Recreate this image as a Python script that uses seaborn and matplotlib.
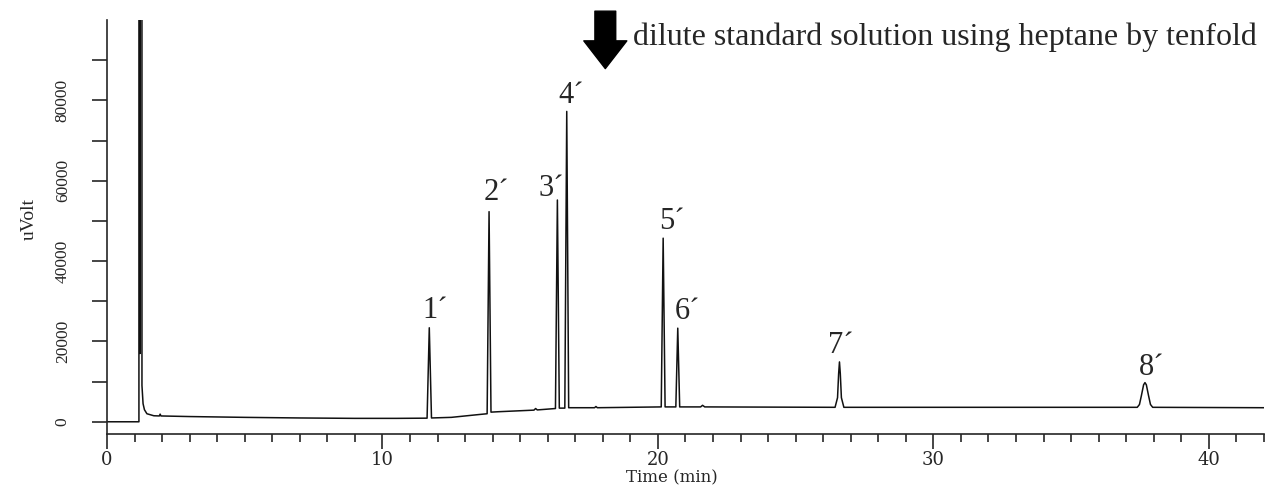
import numpy as np
import pandas as pd
import matplotlib
matplotlib.use("Agg")
import matplotlib.pyplot as plt
import seaborn as sns

# chromatogram trace: time (min) and detector signal (uVolt)
time_min = [0.0, 1.16, 1.17, 1.20, 1.23, 1.26, 1.27, 1.31, 1.36, 1.45, 1.7,
            1.90, 1.93, 1.96, 3.0, 5.0, 7.0, 9.0, 10.5, 11.62, 11.70, 11.78,
            12.5, 13.5, 13.80, 13.87, 13.94, 14.2, 15.5, 15.56, 15.62, 16.28,
            16.35, 16.42, 16.62, 16.69, 16.76, 17.7, 17.75, 17.8, 20.12, 20.19,
            20.26, 20.65, 20.72, 20.79, 21.55, 21.62, 21.7, 26.43, 26.52, 26.56,
            26.59, 26.62, 26.66, 26.75, 37.40, 37.48, 37.55, 37.63, 37.68, 37.73,
            37.81, 37.88, 37.96, 42.0]
signal_uv = [0, 0, 2000000, 17000, 2000000, 2000000, 9000, 4500, 3000, 2000,
             1500, 1450, 1900, 1450, 1300, 1100, 950, 850, 850, 900, 23400, 950,
             1100, 1800, 2000, 52300, 2400, 2500, 2900, 3300, 2950, 3300, 55200,
             3400, 3400, 77250, 3500, 3500, 3800, 3500, 3700, 45700, 3700, 3700,
             23300, 3700, 3700, 4100, 3700, 3600, 6000, 12000, 14900, 12000, 6000,
             3600, 3600, 4300, 6500, 9200, 9750, 9200, 6500, 4300, 3600, 3500]

peak_names = ["1´", "2´", "3´", "4´", "5´", "6´", "7´", "8´"]
peak_times = [11.70, 13.87, 16.35, 16.69, 20.19, 20.72, 26.59, 37.68]
peak_heights = [23400, 52300, 55200, 77250, 45700, 23300, 14900, 9750]

note_text = "dilute standard solution using heptane by tenfold"

df = pd.DataFrame({"Time (min)": time_min, "uVolt": signal_uv})

sns.set_style("ticks")
plt.rcParams["font.family"] = ["Liberation Serif", "DejaVu Serif"]

fig, ax = plt.subplots(figsize=(12.66, 4.88), dpi=100)
fig.subplots_adjust(left=0.0845, right=0.9984, top=0.959, bottom=0.111)

sns.lineplot(data=df, x="Time (min)", y="uVolt", ax=ax, color="#111111",
             linewidth=1.1, estimator=None)

ax.set_xlim(0, 42)
ax.set_ylim(-3000, 100000)
sns.despine(ax=ax)

ax.set_xticks(np.arange(0, 41, 10))
ax.set_xticks(np.arange(0, 43, 1), minor=True)
ax.set_yticks(np.arange(0, 80001, 20000))
ax.set_yticks(np.arange(10000, 100001, 20000), minor=True)
ax.tick_params(axis="x", which="major", length=11, width=1.2, pad=1.5)
ax.tick_params(axis="x", which="minor", length=6, width=1.2)
ax.tick_params(axis="y", which="both", length=11, width=1.2, pad=15)
for lab in ax.get_xticklabels():
    lab.set_fontfamily("DejaVu Serif")
    lab.set_fontsize(13)
for lab in ax.get_yticklabels():
    lab.set_rotation(90)
    lab.set_va("center")
    lab.set_fontsize(12.5)
for s in ax.spines.values():
    s.set_linewidth(1.2)

ax.set_xlabel("Time (min)", fontfamily="DejaVu Serif", fontsize=12)
ax.xaxis.label.set_va("bottom")
ax.xaxis.set_label_coords(0.488, -0.128)
ax.set_ylabel("uVolt", fontsize=14)
ax.yaxis.set_label_coords(-0.06, 0.52)

# peak labels
label_dx = [4.1, 5.5, -4.8, 2.9, 6.3, 7.1, 1.1, 4.7]
label_dy = [7.2, 8.6, 2.9, 5.8, 6.5, 6.5, 6.5, 5.8]
for name, t, h, dx, dy in zip(peak_names, peak_times, peak_heights, label_dx, label_dy):
    ax.annotate(name, xy=(t, h), xytext=(dx, dy), textcoords="offset points",
                ha="center", va="baseline", fontsize=22)

# dilution arrow and note
ax.annotate("", xy=(18.09, 87900), xytext=(18.09, 102200), annotation_clip=False,
            arrowprops=dict(arrowstyle="simple,head_length=20,head_width=31,tail_width=15",
                            mutation_scale=1, color="black", shrinkA=0, shrinkB=0))
ax.text(19.1, 95800, note_text, ha="left", va="center", fontsize=23, clip_on=False)

plt.savefig("out.png", dpi=100)
